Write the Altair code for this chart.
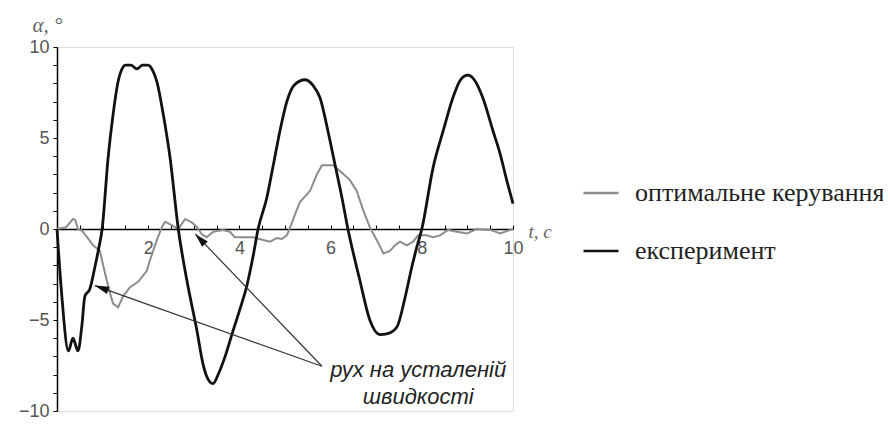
import altair as alt
import pandas as pd
import numpy as np

# ---- data ----
exp_t = [0, 0.1, 0.25, 0.35, 0.46, 0.55, 0.61, 0.72, 0.83, 0.92, 0.99, 1.12, 1.23, 1.34, 1.45,
         1.5, 1.62, 1.75, 1.88, 2.0, 2.1, 2.19, 2.33, 2.48, 2.66, 2.85, 3.07, 3.2, 3.3, 3.42,
         3.55, 3.7, 3.86, 4.0, 4.17, 4.3, 4.41, 4.6, 4.75, 4.89, 5.04, 5.2, 5.44, 5.61, 5.77,
         5.94, 6.1, 6.25, 6.38, 6.64, 6.86, 7.08, 7.25, 7.45, 7.63, 7.78, 7.89, 8.0, 8.25, 8.47,
         8.68, 8.85, 9.01, 9.15, 9.34, 9.56, 9.71, 9.87, 10.0]
exp_a = [0, -3.5, -6.7, -6.0, -6.7, -5.2, -3.7, -3.3, -2.1, -1.0, 0, 3.9, 6.3, 8.1, 8.9,
         9.0, 9.0, 8.8, 9.0, 9.0, 8.7, 8.1, 6.3, 3.9, 0, -2.85, -5.6, -7.4, -8.2, -8.5,
         -7.9, -6.9, -5.6, -4.5, -3.05, -1.5, 0, 1.7, 3.6, 5.4, 7.0, 7.9, 8.2, 7.9, 7.2,
         5.4, 3.5, 1.7, 0, -2.8, -5.0, -5.8, -5.75, -5.4, -3.8, -2.1, -1.0, 0, 3.4, 5.4,
         7.2, 8.2, 8.45, 8.2, 7.2, 5.4, 4.2, 2.6, 1.4]

opt_t = [0, 0.2, 0.35, 0.4, 0.46, 0.55, 0.66, 0.79, 0.94, 1.05, 1.16, 1.23, 1.34, 1.45, 1.6,
         1.78, 1.97, 2.04, 2.19, 2.3, 2.37, 2.52, 2.66, 2.81, 2.96, 3.07, 3.18, 3.28, 3.43,
         3.64, 3.79, 3.9, 4.01, 4.3, 4.52, 4.67, 4.82, 4.93, 5.04, 5.1, 5.22, 5.33, 5.48,
         5.55, 5.7, 5.81, 6.05, 6.2, 6.42, 6.57, 6.72, 6.86, 7.01, 7.16, 7.3, 7.41, 7.52,
         7.67, 7.81, 7.92, 8.1, 8.25, 8.4, 8.58, 8.77, 8.99, 9.2, 9.5, 9.72, 9.94, 10.0]
opt_a = [0, 0.1, 0.55, 0.5, 0, -0.1, -0.45, -0.9, -1.2, -2.4, -3.5, -4.1, -4.3, -3.7, -3.2,
         -2.9, -2.3, -1.7, -0.6, 0.1, 0.4, 0.2, 0, 0.55, 0.35, 0.1, -0.3, -0.45, -0.15,
         -0.05, -0.15, -0.45, -0.45, -0.45, -0.6, -0.7, -0.5, -0.55, -0.35, 0, 0.8, 1.5, 1.9,
         2.1, 3.0, 3.5, 3.5, 3.2, 2.7, 2.1, 1.0, 0.1, -0.6, -1.35, -1.2, -0.9, -0.7,
         -0.9, -0.7, -0.35, -0.35, -0.45, -0.35, -0.05, -0.15, -0.25, 0, -0.05, -0.25, -0.05, 0]

series_names = ["оптимальне керування", "експеримент"]
series_colors = ["#8c8c8c", "#111111"]

y_ticks = list(range(-10, 11))
x_minor_ticks = [i * 0.5 for i in range(0, 21)]
x_labels = [2, 4, 6, 8, 10]

note_lines = ["рух на усталеній", "швидкості"]
note_t = [7.92, 7.92]
note_a = [-7.75, -9.25]

arrow_from_t = [5.81, 5.81]
arrow_from_a = [-7.54, -7.54]
arrow_to_t = [0.83, 3.03]
arrow_to_a = [-3.11, -0.27]

# ---- layout ----
W, H = 456, 364
X_DOM = [0, 10]
Y_DOM = [-10, 10]
AX_OFF = -H / 2.0

exp_df = pd.DataFrame({"t": exp_t, "a": exp_a, "s": series_names[1]})
opt_df = pd.DataFrame({"t": opt_t, "a": opt_a, "s": series_names[0]})

xs = alt.Scale(domain=X_DOM, nice=False, zero=False)
ys = alt.Scale(domain=Y_DOM, nice=False, zero=False)

y_axis = alt.Axis(values=y_ticks, labelExpr="datum.value % 5 == 0 ? datum.label : ''",
                  tickSize=4, tickColor="black", domainColor="black", domainWidth=1.5,
                  labelFont="Liberation Sans", labelFontSize=18, labelColor="#555",
                  labelPadding=4, grid=False,
                  title="α, °", titleAngle=0, titleX=-25, titleY=-22, titleAlign="left",
                  titleBaseline="middle", titleFont="Liberation Serif", titleFontStyle="italic",
                  titleFontWeight="normal", titleFontSize=21, titleColor="#666")

color = alt.Color("s:N", scale=alt.Scale(domain=series_names, range=series_colors),
                  legend=alt.Legend(title=None, orient="none", legendX=525, legendY=127,
                                    symbolType="stroke", symbolSize=1225,
                                    symbolStrokeWidth=2.5, labelFont="Liberation Serif",
                                    labelFontSize=26, labelColor="#222", labelLimit=500,
                                    labelOffset=15, rowPadding=26))

opt_line = alt.Chart(opt_df).mark_line(strokeWidth=2).encode(
    x=alt.X("t:Q", scale=xs, axis=alt.Axis(orient="top", values=x_minor_ticks, labels=False,
                                              domain=False, tickSize=4, tickColor="black",
                                              offset=AX_OFF, title=None, grid=False)),
    y=alt.Y("a:Q", scale=ys, axis=y_axis),
    color=color,
)

exp_line = alt.Chart(exp_df).mark_line(strokeWidth=2.8, interpolate="monotone").encode(
    x=alt.X("t:Q", scale=xs, axis=alt.Axis(orient="bottom", values=x_labels, ticks=False,
                                              domainColor="black", domainWidth=1.5,
                                              labelFont="Liberation Sans", labelFontSize=18,
                                              labelColor="#555", labelPadding=10,
                                              labelFlush=False, offset=AX_OFF, grid=False,
                                              title="t, c", titleX=W + 15, titleY=2,
                                              titleAlign="left", titleBaseline="middle",
                                              titleAngle=0, titleFont="Liberation Serif",
                                              titleFontStyle="italic", titleFontWeight="normal",
                                              titleFontSize=19, titleColor="#666")),
    y=alt.Y("a:Q", scale=ys, axis=None),
    color=color,
)

# arrows
px_t = W / (X_DOM[1] - X_DOM[0])
px_a = H / (Y_DOM[1] - Y_DOM[0])
ang = []
for ft, fa, tt, ta in zip(arrow_from_t, arrow_from_a, arrow_to_t, arrow_to_a):
    dx = (tt - ft) * px_t
    dy = -(ta - fa) * px_a
    ang.append(float(np.degrees(np.arctan2(dx, -dy)) % 360))
arr_df = pd.DataFrame({"t": arrow_from_t, "a": arrow_from_a, "t2": arrow_to_t, "a2": arrow_to_a,
                       "ang": ang})

arrow_lines = alt.Chart(arr_df).mark_rule(color="#333", strokeWidth=1.2).encode(
    x=alt.X("t:Q", scale=xs, axis=None), y=alt.Y("a:Q", scale=ys, axis=None),
    x2="t2:Q", y2="a2:Q")

arrow_heads = alt.Chart(arr_df).mark_point(
    shape="M0,0 L-0.55,2 L0.55,2 Z", filled=True, color="#111", opacity=1, size=200).encode(
    x=alt.X("t2:Q", scale=xs, axis=None), y=alt.Y("a2:Q", scale=ys, axis=None),
    angle=alt.Angle("ang:Q", scale=None))

note_df = pd.DataFrame({"t": note_t, "a": note_a, "txt": note_lines})
notes = alt.Chart(note_df).mark_text(font="Liberation Sans", fontStyle="italic", fontSize=22,
                                      color="#222", align="center", baseline="middle").encode(
    x=alt.X("t:Q", scale=xs, axis=None), y=alt.Y("a:Q", scale=ys, axis=None), text="txt:N")

chart = alt.layer(opt_line, exp_line, arrow_lines, arrow_heads, notes).resolve_axis(
    x="independent", y="independent"
).properties(
    width=W, height=H,
    padding={"left": 49, "top": 39, "right": 370, "bottom": 9},
    autosize=alt.AutoSizeParams(type="none"),
).configure_view(strokeWidth=0, stroke="transparent").configure(background="white")

chart.save("out.html", embed_options={"renderer": "svg", "actions": False})
